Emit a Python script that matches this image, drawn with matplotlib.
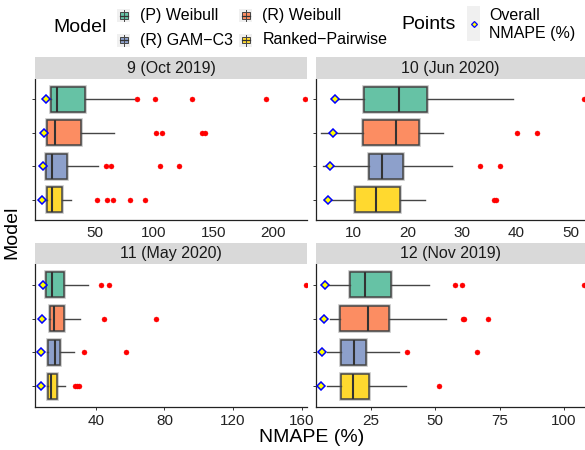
import matplotlib
matplotlib.use('Agg')
import matplotlib.pyplot as plt
import matplotlib.patheffects as pe
from matplotlib.patches import Rectangle
from matplotlib.lines import Line2D
from matplotlib.transforms import Affine2D

plt.rcParams['font.family'] = ['Liberation Sans', 'DejaVu Sans']

models = ['(P) Weibull', '(R) Weibull', '(R) GAM\u2212C3', 'Ranked\u2212Pairwise']
colors = ['#66C2A5', '#FC8D62', '#8DA0CB', '#FFD92F']
panels = ['9 (Oct 2019)', '10 (Jun 2020)', '11 (May 2020)', '12 (Nov 2019)']

# box statistics per panel, model order as above
p9_lo = [12.5, 9.4, 8.3, 8.8]
p9_q1 = [13.5, 10.4, 9.3, 9.8]
p9_med = [18.8, 17.1, 14.6, 14.0]
p9_q3 = [42.1, 38.8, 26.7, 22.5]
p9_hi = [82.8, 66.0, 52.8, 30.1]
p9_out = [[85.4, 100.5, 132.0, 194.0, 226.9], [101.9, 106.7, 140.4, 142.7],
          [59.8, 64.0, 104.7, 121.1], [52.0, 60.7, 65.4, 79.8, 92.7]]
p9_overall = [9.0, 7.9, 6.5, 6.2]

p10_lo = [7.2, 4.1, 4.4, 4.5]
p10_q1 = [12.0, 11.7, 12.8, 10.2]
p10_med = [18.3, 17.8, 15.2, 14.1]
p10_q3 = [23.5, 22.1, 19.1, 18.6]
p10_hi = [39.3, 26.5, 28.1, 23.2]
p10_out = [[52.4], [40.1, 43.8], [33.2, 37.0], [35.8, 36.3]]
p10_overall = [6.6, 6.2, 5.7, 5.4]

p11_lo = [10.2, 12.6, 11.4, 11.5]
p11_q1 = [11.1, 13.4, 12.2, 12.2]
p11_med = [14.6, 15.6, 16.0, 14.0]
p11_q3 = [21.2, 21.2, 18.9, 17.0]
p11_hi = [35.3, 30.6, 26.9, 21.8]
p11_out = [[43.1, 47.6, 162.4], [44.8, 75.1], [33.1, 57.6], [27.9, 28.9, 30.0]]
p11_overall = [9.0, 8.6, 8.0, 7.8]

p12_lo = [8.8, 9.1, 7.9, 7.9]
p12_q1 = [16.8, 13.1, 13.3, 13.3]
p12_med = [22.8, 23.7, 18.4, 17.9]
p12_q3 = [32.8, 32.0, 22.9, 24.1]
p12_hi = [47.4, 54.1, 35.8, 38.5]
p12_out = [[57.6, 60.2, 107.8], [60.6, 61.1, 70.6], [38.9, 66.2], [51.4]]
p12_overall = [7.1, 6.9, 5.8, 5.7]

xlims = [(0.3, 228.5), (3.1, 52.6), (4.6, 163.2), (3.6, 108.2)]
xticks = [[50, 100, 150, 200], [10, 20, 30, 40, 50], [40, 80, 120, 160], [25, 50, 75, 100]]

panel_data = [
    (p9_lo, p9_q1, p9_med, p9_q3, p9_hi, p9_out, p9_overall),
    (p10_lo, p10_q1, p10_med, p10_q3, p10_hi, p10_out, p10_overall),
    (p11_lo, p11_q1, p11_med, p11_q3, p11_hi, p11_out, p11_overall),
    (p12_lo, p12_q1, p12_med, p12_q3, p12_hi, p12_out, p12_overall),
]

W, H = 585, 450
fig = plt.figure(figsize=(W / 100, H / 100), dpi=100)
# pixel coordinates measured from the top-left corner
pix = Affine2D().scale(1 / W, -1 / H).translate(0, 1) + fig.transFigure

cols = [(35.3, 307.0), (316.0, 585.0)]
rows = [(79.0, 220.0, 57.0), (264.3, 406.7, 243.3)]
positions = [4, 3, 2, 1]
halo = [pe.Stroke(linewidth=2.6, foreground='#c4c4c4'), pe.Normal()]

for i, (lo, q1, med, q3, hi, out, overall) in enumerate(panel_data):
    x0, x1 = cols[i % 2]
    y0, y1, ys = rows[i // 2]
    ax = fig.add_axes([x0 / W, 1 - y1 / H, (x1 - x0) / W, (y1 - y0) / H])

    stats = [dict(whislo=lo[k], q1=q1[k], med=med[k], q3=q3[k], whishi=hi[k],
                  fliers=out[k]) for k in range(4)]
    bp = ax.bxp(stats, positions=positions, widths=0.75, orientation='horizontal',
                patch_artist=True, showcaps=False,
                boxprops=dict(edgecolor='#454545', linewidth=1.1),
                medianprops=dict(color='#333333', linewidth=1.5),
                whiskerprops=dict(color='#454545', linewidth=1.0),
                flierprops=dict(marker='o', markerfacecolor='#FF0000',
                                markeredgecolor='#FF0000', markersize=3.6,
                                markeredgewidth=0.3, linestyle='none'))
    for patch, c in zip(bp['boxes'], colors):
        patch.set_facecolor(c)
        patch.set_path_effects(halo)

    ax.plot(overall, positions, linestyle='none', marker='D', markersize=4.0,
            markerfacecolor='#FFFF00', markeredgecolor='#0000FF',
            markeredgewidth=1.1, zorder=5)

    ax.set_xlim(*xlims[i])
    ax.set_ylim(0.4, 4.6)
    ax.set_xticks(xticks[i])
    ax.set_yticks(positions)
    ax.set_yticklabels([])
    for s in ['top', 'right']:
        ax.spines[s].set_visible(False)
    for s in ['left', 'bottom']:
        ax.spines[s].set_linewidth(0.9)
        ax.spines[s].set_color('#222222')
    ax.tick_params(axis='y', length=2.5, width=0.7, color='#333333')
    if i < 2:
        ax.tick_params(axis='x', length=0, pad=4.0, labelsize=11, labelcolor='#222222')
    else:
        ax.tick_params(axis='x', length=2.5, width=0.7, pad=3.0, labelsize=11,
                       labelcolor='#222222', color='#333333')

    # facet strip
    fig.patches.append(Rectangle((x0, ys), x1 - x0, y0 - ys, transform=pix,
                                 facecolor='#D9D9D9', edgecolor='none'))
    fig.text((x0 + x1) / 2 / W, 1 - (ys + y0) / 2 / H, panels[i], ha='center',
             va='center', fontsize=11.5, color='#1A1A1A')

fig.text(12 / W, 1 - 232 / H, 'Model', rotation=90, ha='center', va='center', fontsize=14)
fig.text(312 / W, 1 - 437 / H, 'NMAPE (%)', ha='center', va='center', fontsize=14)

# legend: model keys
fig.text(53.6 / W, 1 - 28 / H, 'Model', ha='left', va='center', fontsize=14)
key_pos = [(123.5, 15.5), (245.5, 15.5), (123.5, 40.0), (245.5, 40.0)]
for (cx, cy), name, c in zip(key_pos, models, colors):
    fig.patches.append(Rectangle((cx - 6.5, cy - 6.5), 13, 13, transform=pix,
                                 facecolor='#F0F0F0', edgecolor='none'))
    fig.lines.append(Line2D([cx, cx], [cy - 5.5, cy + 5.5], transform=pix,
                            color='#454545', linewidth=0.7))
    fig.patches.append(Rectangle((cx - 4, cy - 3.2), 8, 6.4, transform=pix,
                                 facecolor=c, edgecolor='#454545', linewidth=0.7))
    fig.lines.append(Line2D([cx - 4, cx + 4], [cy, cy], transform=pix,
                            color='#333333', linewidth=0.9))
    fig.text((cx + 17) / W, 1 - cy / H, name, ha='left', va='center', fontsize=11.5)

# legend: overall point
fig.text(401 / W, 1 - 24.4 / H, 'Points', ha='left', va='center', fontsize=14)
fig.patches.append(Rectangle((467, 5.6), 13, 35.4, transform=pix,
                             facecolor='#F0F0F0', edgecolor='none'))
fig.lines.append(Line2D([473.5], [24], transform=pix, linestyle='none', marker='D',
                        markersize=3.0, markerfacecolor='#FFFF00',
                        markeredgecolor='#0000FF', markeredgewidth=0.9))
fig.text(489 / W, 1 - 24.5 / H, 'Overall\nNMAPE (%)', ha='left', va='center',
         fontsize=11.5, linespacing=1.2)

fig.savefig('out.png', dpi=100)
